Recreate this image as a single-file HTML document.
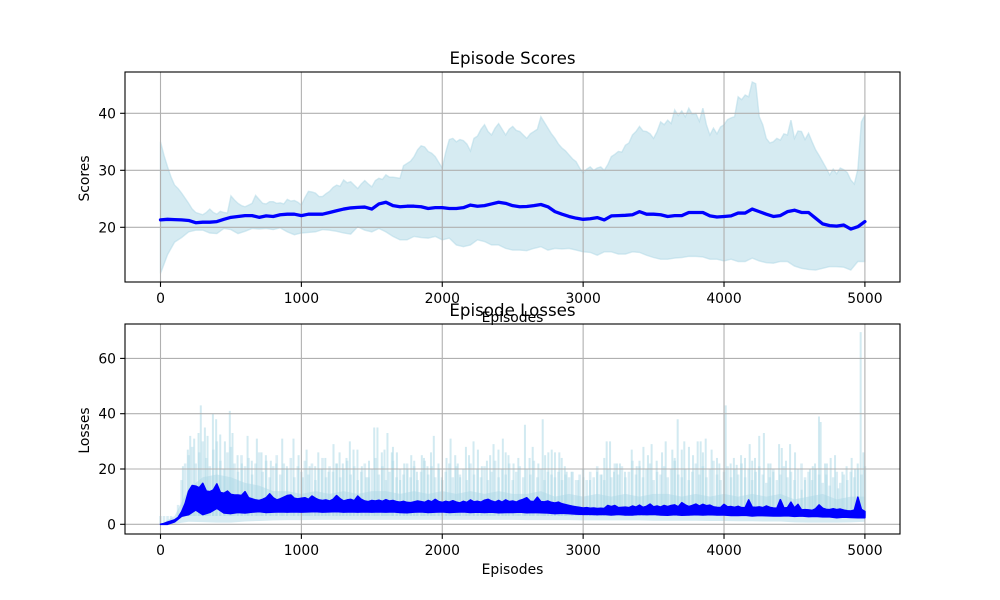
<!DOCTYPE html>
<html>
<head>
<meta charset="utf-8">
<title>Episode Scores and Losses</title>
<style>
html,body{margin:0;padding:0;background:#fff;width:1000px;height:600px;overflow:hidden}
svg{display:block}
text{font-family:"DejaVu Sans","Liberation Sans",sans-serif;fill:#000}
</style>
</head>
<body>
<svg id="chart" xmlns="http://www.w3.org/2000/svg" width="1000" height="600" viewBox="0 0 1000 600"></svg>
<script>
const xTicks = [0, 1000, 2000, 3000, 4000, 5000];
const scoreTicks = [20, 30, 40];
const lossTicks = [0, 20, 40, 60];

const scoreUpper = [35,32.6,30.6,28.8,27.4,26.8,26,25.1,
24.2,23.2,22.6,22.4,22.2,22.6,23.2,22.6,
22.3,22.8,22.6,22.5,25.5,24.8,24.2,23.8,
23.6,23.9,24.2,25.6,24.9,24.2,24.1,24.5,
24.5,24.2,24.3,24.1,24.9,24.6,24.7,24.4,
23.9,25.2,26.3,26.2,26,25.4,25.4,25.9,
26.3,27,27.4,27.2,28.3,27.8,28,27.4,
26.8,27.6,28.2,27.6,27.1,28.2,28.6,28.4,
29.2,28.8,28.8,28.7,28.6,30.8,31.2,31.6,
32.4,33.6,34.3,34.1,33.3,33,32.4,31.4,
30.4,33.2,35.4,35.6,35,35.4,35.2,34.6,
33.4,35.6,36,37.2,38,36.8,36.2,37.4,
38.2,37.2,36.2,37.2,37.7,37,36.8,36.2,
35.6,36.4,36.8,37.2,39.4,38.4,37.4,36.4,
35.6,34.6,33.9,33.4,32.7,32,31.5,30.4,
29.5,30.2,30.6,30,30.4,30.6,30,31,
32.4,32.8,33.3,33.2,34.4,34.8,36.2,36.8,
37.7,36.9,36.8,36.4,35.6,36.8,38.5,38,
38.8,38.2,40.6,39.6,40.4,39.4,40.9,39.8,
40,38.6,40.9,38,36.2,37.4,36.4,37.6,
38,38.9,39.2,39.4,42.9,42.4,43.2,42.9,
45.5,45.2,39.4,38,35.6,34.8,35,35.6,
35.3,36.4,36.2,38.8,35.6,36.9,36.8,35.4,
36.5,35,33.6,32.6,31.5,30.4,29.2,30.2,
29.4,30.4,30.1,29.6,28.3,27.6,30.2,38.5,
39.7];
const scoreLower = [11.9,15.2,17.4,18.2,19.2,19.5,19.5,19.0,18.9,19.8,19.6,18.9,19.3,19.8,19.7,19.8,19.6,19.9,19.2,18.7,19.0,19.1,19.2,19.6,19.5,19.3,19.0,18.8,20.1,19.5,19.2,19.8,19.2,18.4,17.8,17.8,18.4,18.2,18.1,18.4,17.8,18.1,16.9,16.6,16.9,17.8,17.5,16.9,16.9,16.3,16.0,16.0,15.9,16.3,16.6,16.0,16.3,16.2,16.3,16.0,15.7,15.6,15.1,15.7,15.7,15.3,15.3,15.7,15.6,15.1,14.7,14.4,14.4,14.6,14.7,14.9,14.9,14.8,14.4,14.4,14.1,14.4,14.0,14.0,14.6,14.1,13.8,13.7,14.0,14.0,13.2,12.8,12.6,12.5,12.8,13.1,13.1,13.0,12.5,14.0,14.0];
const scoreMean = [21.3,21.4,21.35,21.3,21.2,20.8,20.9,20.9,21.0,21.4,21.75,21.9,22.05,22.05,21.75,22.0,21.9,22.2,22.3,22.3,22.05,22.3,22.3,22.3,22.6,22.9,23.2,23.4,23.5,23.55,23.2,24.1,24.4,23.8,23.6,23.7,23.7,23.6,23.3,23.45,23.45,23.3,23.3,23.45,23.9,23.7,23.8,24.1,24.4,24.2,23.8,23.6,23.65,23.8,24.0,23.6,22.75,22.3,21.9,21.6,21.4,21.5,21.7,21.3,22.0,22.05,22.1,22.2,22.75,22.3,22.3,22.2,21.9,22.05,22.05,22.6,22.6,22.6,22.0,21.8,21.9,22.0,22.5,22.5,23.2,22.75,22.3,21.9,22.05,22.75,23.0,22.6,22.6,21.6,20.6,20.3,20.2,20.4,19.7,20.1,21.0];

const lossFloor = [0,0.2,0.9,0.8,0.6,0.6,1.0,1.2,1.4,1.5,1.5,1.6,1.6,1.6,1.6,1.6,1.6,1.6,1.6,1.6,1.6,1.6,1.6,1.6,1.6,1.6,1.5,1.5,1.5,1.5,1.4,1.4,1.4,1.4,1.4,1.3,1.3,1.3,1.3,1.2,1.2,1.1,1.1,1.0,1.0,0.7,0.6,0.6,0.6,0.7,0.9];
const lossBody = [0,3,13,17,18,17,15,14,12,12,11,12,11,12,11,12,12,11,12,11,12,11,12,11,12,11,11,12,10,11,10,11,10,11,10,11,11,10,11,10,11,10,11,10,11,9,10,11,9,10,10];
const lossMid = [0,0.3,0.8,1.5,3,7,16,22,25,28,22,26,30,24,21,27,30,23,20,26,28,22,19,25,21,24,18,22,26,19,23,17,21,25,18,22,20,24,17,21,19,23,18,22,16,20,24,17,21,19,22,17,20,23,18,21,16,19,22,17,20,24,18,21,16,19,23,17,20,18,22,17,21,16,19,23,18,21,17,20,16,19,22,17,21,18,20,16,22,18,20,17,21,16,19,23,17,20,18,22,16,19,21,17,20,18,23,17,20,16,19,18,17,19,16,18,17,19,16,18,20,16,19,17,21,18,16,20,17,22,18,21,17,19,23,18,21,17,20,22,16,19,18,21,17,20,23,18,17,20,16,19,22,18,21,17,20,23,18,16,19,21,17,20,18,22,17,20,16,19,21,18,15,17,20,16,18,21,17,19,16,20,22,17,19,16,20,18,15,18,14,17,19,15,18,16,19,17,20,18,21];
const spikeEpisodes = [159,194,211,239,270,286,315,334,372,395,424,457,492,511,547,577,618,648,684,717,748,783,821,864,897,944,980,1010,1058,1098,1145,1193,1228,1271,1294,1344,1370,1398,1429,1460,1517,1540,1571,1611,1642,1678,1701,1753,1801,1820,1855,1895,1940,1973,1997,2059,2092,2127,2168,2222,2253,2281,2317,2364,2399,2430,2470,2506,2540,2587,2642,2682,2713,2753,2777,2800,2831,2848,2883,2918,2966,3002,3049,3100,3131,3167,3191,3219,3261,3297,3345,3380,3428,3486,3522,3586,3633,3671,3718,3751,3813,3834,3870,3912,3967,4012,4047,4090,4121,4149,4182,4220,4250,4283,4314,4350,4391,4410,4469,4504,4551,4575,4610,4646,4674,4686,4717,4757,4788,4811,4870,4906,4949,4970,4989,
1037,1120,1170,1250,1320,1480,1590,1650,1730,1780,1870,1920,2030,2110,2190,2340,2450,2620,2730,2870,3150,3240,3400,3460,3560,3650,3700,3780,3850,3950,4070,4200,4330,4440,4630,4730,4840,4930];
const spikeValues = [21,27,32,31,33,43,35,32,40,38,32.5,30,41,33,25,22,32,23,31,26,25,23,22,31,21,31,25,17,21,21,20,19,29,26,22,30,27,27,21,17,35,35,26,33,26,26,16,20,23,19,25,21,32,22,17,31,25,17,28,30,27,21,23,29,27,31,25,22,24,36,28,22,38,26,27,26,26,24,19,19,16,17,16,19,18,30,30,19,22,19,27,21,28,29,23,30,27,38,30,28,30,30,31,27,22,43,22,21.5,25,24,29,24,32,33,22,19,29,27.6,29,26,12.5,16,20,22,39,37,22,24,25,13,21,24,22,69.5,26,
27,26,24,22,24,23,27,28,22,25,24,26,24,22,25,25,26,24,25,21,24,22,23,25,26,24,27,25,26,24,24,23,22,23,21,22,19,20];
const lossMeanHigh = [0,0.3,0.8,1.2,1.6,2.5,4.5,7.5,
12,14,13.8,13.2,14.8,12,11.8,12.4,
14.6,11.5,11.2,12,10.8,10.6,10.6,10.4,
11.8,9.6,9.2,8.8,8.6,9,9.6,11,
9.6,8.8,9.2,9.8,10.4,10.6,9.4,9.2,
9.4,9.6,9,10.2,9.4,8.8,8.6,8.8,
8.4,9,10.4,9.2,8.4,8.8,9,8.5,
10.2,9,8.4,8.2,8.6,8.4,8.7,8.3,
8.9,8.4,8.6,8.2,8,8.3,7.9,7.8,
8.1,8.4,8.2,7.9,8.6,8.1,9,8.2,
7.9,8.3,8,8.5,8,7.7,8.3,7.9,
8.8,8.1,8.3,8,8.7,9,8.4,8,
8.6,8,8.8,8.2,8.4,8,8.6,9,
9.6,8.3,8.2,9.8,8.2,8.1,8.4,7.9,
7.7,8,7.4,7.1,6.8,6.5,6.3,6.1,
5.9,6,5.8,5.9,5.7,5.8,5.7,6.8,
6.4,6.8,6,6.1,6.2,6,6.6,6.2,
6.9,6.1,6.5,7.3,6.3,6.6,6.2,6.8,
6.4,6.8,7,6.3,7.8,7,6.4,6.8,
7.3,6.6,7.2,6.7,6.9,6.3,6.1,6,
7.2,6.3,6.4,6.1,6.5,6,6,8.8,
6.2,6.1,6.3,6,6.6,6.1,5.9,5.8,
8.9,5.9,6,8,5.9,7.2,5.2,5.3,
5.2,5,5.6,7,5.8,5.4,5.3,5.6,
5.3,5.5,5.1,4.9,4.8,5.1,9.8,5.4,
4.6];
const lossMeanLow = [0,0,0.9,2.9,3.5,5.2,3.5,4.3,5.8,4.1,3.9,4.3,4.1,4.4,4.6,4.3,4.4,4.5,4.4,4.5,4.4,4.5,4.6,4.4,4.5,4.6,4.4,4.5,4.4,4.5,4.4,4.5,4.4,4.5,4.3,4.2,4.4,4.5,4.3,4.4,4.5,4.3,4.4,4.5,4.3,4.4,4.3,4.4,4.2,4.3,4.3,4.4,4.2,4.3,4.2,4.1,3.9,4.0,3.9,3.7,3.6,3.6,3.5,3.6,3.4,3.6,3.4,3.4,3.6,3.5,3.6,3.4,3.3,3.5,3.3,3.4,3.5,3.4,3.5,3.4,3.4,3.2,3.2,3.3,3.0,3.2,3.1,3.0,3.0,3.1,2.9,3.0,2.8,2.9,2.7,2.7,2.4,2.6,2.5,2.4,2.4];

const svg = document.getElementById('chart');
const NS = 'http://www.w3.org/2000/svg';
const BAND = '#ADD8E6';

function xScale(ep) { return 160.5 + ep * 0.14088; }
function yScore(v) { return 227.3 - (v - 20) * 5.7; }
function yLoss(v) { return 524.3 - v * 2.765; }
function epAt(i, arr) { return i * 5000 / (arr.length - 1); }

function make(tag, attrs, parent) {
  const el = document.createElementNS(NS, tag);
  for (const k in attrs) el.setAttribute(k, attrs[k]);
  (parent || svg).appendChild(el);
  return el;
}
function pts(arr, yFn) {
  return arr.map((v, i) => xScale(epAt(i, arr)).toFixed(2) + ',' + yFn(v).toFixed(2));
}

function drawGrid(panel, top, bottom, ticks, yFn) {
  const g = make('g', {}, panel);
  
  
  xTicks.forEach(t => make('line', {x1: xScale(t), x2: xScale(t), y1: top, y2: bottom, stroke: '#b0b0b0', 'stroke-width': 1.1}, g));
  ticks.forEach(t => make('line', {x1: 125, x2: 900, y1: yFn(t), y2: yFn(t), stroke: '#b0b0b0', 'stroke-width': 1.1}, g));
}

function drawAxes(panel, top, bottom, ticks, yFn, yTitle) {
  const frame = make('rect', {x: 125, y: top, width: 775, height: bottom - top, fill: 'none', stroke: '#000', 'stroke-width': 1.1}, panel);
  
  
  xTicks.forEach(t => {
    make('line', {x1: xScale(t), x2: xScale(t), y1: bottom, y2: bottom + 4.9, stroke: '#000', 'stroke-width': 1.1}, panel);
    const lab = make('text', {x: xScale(t), y: bottom + 21, 'text-anchor': 'middle', 'font-size': 13.89}, panel);
    
    
    lab.textContent = t;
  });
  ticks.forEach(t => {
    make('line', {x1: 125, x2: 120.1, y1: yFn(t), y2: yFn(t), stroke: '#000', 'stroke-width': 1.1}, panel);
    const lab = make('text', {x: 116, y: yFn(t) + 5, 'text-anchor': 'end', 'font-size': 13.89}, panel);
    
    
    lab.textContent = t;
  });
  const cy = (top + bottom) / 2 + 1.5;
  const yl = make('text', {x: 0, y: 0, 'text-anchor': 'middle', 'font-size': 13.89, transform: 'translate(89,' + cy + ') rotate(-90)'}, panel);
  
  
  yl.textContent = yTitle;
  const xl = make('text', {x: 512.5, y: bottom + 40, 'text-anchor': 'middle', 'font-size': 13.89}, panel);
  
  
  xl.textContent = 'Episodes';
}

function drawTitle(panel, label, top) {
  const t = make('text', {x: 512.5, y: top - 8, 'text-anchor': 'middle', 'font-size': 16.67}, panel);
  
  
  t.textContent = label;
}

/* Scores panel */
const scoresPanel = make('g', {});


const scoreBand = make('polygon', {
  points: pts(scoreUpper, yScore).concat(pts(scoreLower, yScore).reverse()).join(' '),
  fill: BAND, 'fill-opacity': 0.5, stroke: BAND, 'stroke-opacity': 0.5, 'stroke-width': 1.4
}, scoresPanel);


drawGrid(scoresPanel, 72, 282, scoreTicks, yScore);
const scoreLine = make('polyline', {
  points: pts(scoreMean, yScore).join(' '), fill: 'none', stroke: '#0000ff', 'stroke-width': 3.3, 'stroke-linejoin': 'round', 'stroke-linecap': 'round'
}, scoresPanel);


drawAxes(scoresPanel, 72, 282, scoreTicks, yScore, 'Scores');
drawTitle(scoresPanel, 'Episode Scores', 72);

/* Losses panel */
const lossesPanel = make('g', {});


const lossBand = make('g', {}, lossesPanel);


make('polygon', {
  points: pts(lossBody, yLoss).concat(pts(lossFloor, yLoss).reverse()).join(' '),
  fill: BAND, 'fill-opacity': 0.5
}, lossBand);
lossMid.forEach((v, i) => {
  const x = xScale(epAt(i, lossMid));
  make('line', {x1: x, x2: x, y1: yLoss(3), y2: yLoss(v), stroke: BAND, 'stroke-opacity': 0.45, 'stroke-width': 2.6}, lossBand);
});
spikeValues.forEach((v, i) => {
  const x = xScale(spikeEpisodes[i]);
  make('line', {x1: x, x2: x, y1: yLoss(3), y2: yLoss(v), stroke: BAND, 'stroke-opacity': 0.55, 'stroke-width': 2}, lossBand);
});
drawGrid(lossesPanel, 324, 534, lossTicks, yLoss);
const lossLine = make('polygon', {
  points: pts(lossMeanHigh, yLoss).concat(pts(lossMeanLow, yLoss).reverse()).join(' '),
  fill: '#0000ff', stroke: '#0000ff', 'stroke-width': 1.6, 'stroke-linejoin': 'round'
}, lossesPanel);


drawAxes(lossesPanel, 324, 534, lossTicks, yLoss, 'Losses');
drawTitle(lossesPanel, 'Episode Losses', 324);
</script>
</body>
</html>
